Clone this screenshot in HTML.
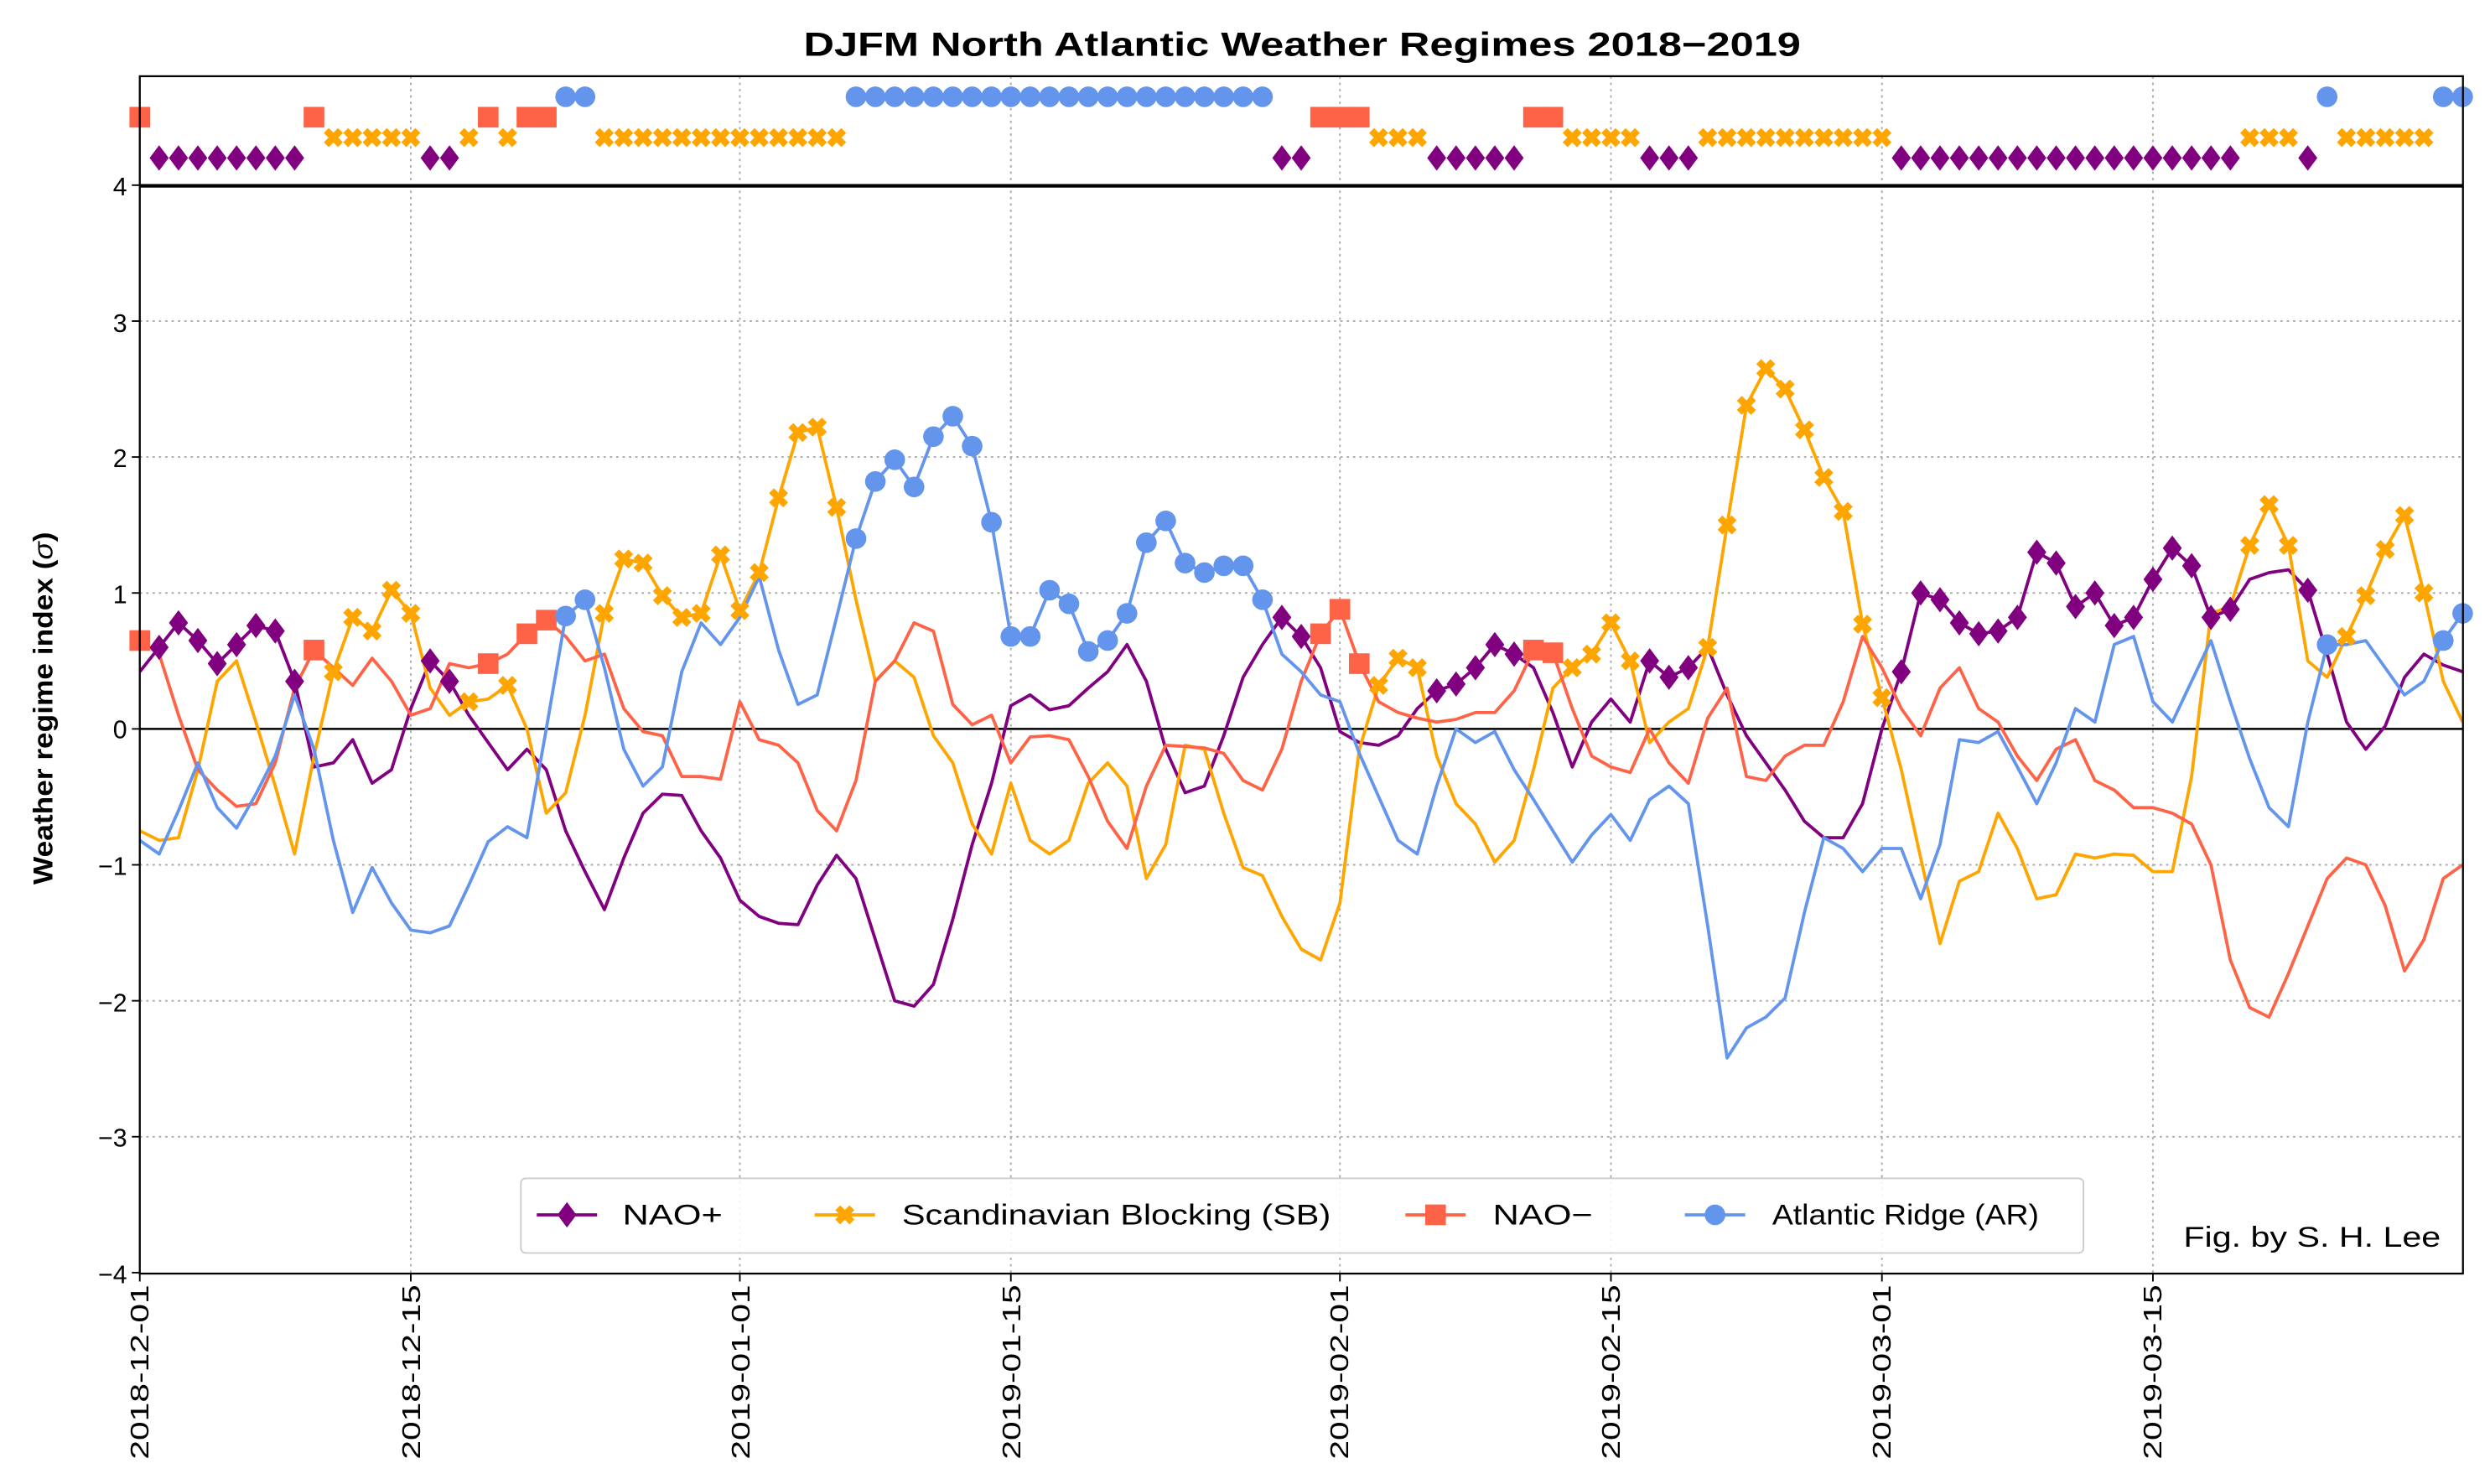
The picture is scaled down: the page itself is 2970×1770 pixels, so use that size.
<!DOCTYPE html>
<html><head><meta charset="utf-8"><style>
html,body{margin:0;padding:0;background:#fff}
svg{display:block}
text{font-family:"Liberation Sans","DejaVu Sans",sans-serif}
</style></head><body>
<svg id="s" width="2970" height="1770" viewBox="0 0 1568 934.5" xmlns="http://www.w3.org/2000/svg">
<rect width="1568" height="934.5" fill="#fff"/>
<g id="grid" stroke="#aaa" stroke-width="1" stroke-dasharray="1.5,2.5"></g>
<line x1="88" y1="459" x2="1551" y2="459" stroke="#000" stroke-width="1.3"/>
<g id="series"></g>
<line x1="88" y1="117" x2="1551" y2="117" stroke="#000" stroke-width="2.2"/>
<rect x="88" y="48" width="1463" height="754" fill="none" stroke="#000" stroke-width="1.2"/>
<text x="820" y="35" font-size="21" font-weight="bold" text-anchor="middle" textLength="628" lengthAdjust="spacingAndGlyphs">DJFM North Atlantic Weather Regimes 2018−2019</text>
<g font-size="16" text-anchor="end">
<text x="80" y="123">4</text><text x="80" y="209">3</text><text x="80" y="294">2</text><text x="80" y="380">1</text><text x="80" y="465">0</text><text x="80" y="551">−1</text><text x="80" y="637">−2</text><text x="80" y="722">−3</text><text x="80" y="808">−4</text>
</g>
<text transform="translate(33,446) rotate(-90)" font-size="17" font-weight="bold" text-anchor="middle" textLength="222" lengthAdjust="spacingAndGlyphs">Weather regime index (<tspan font-style="italic" font-weight="normal">σ</tspan>)</text>
<g font-size="16" text-anchor="end">
<text transform="translate(93.5,809) rotate(-90)" textLength="110" lengthAdjust="spacingAndGlyphs">2018-12-01</text>
<text transform="translate(264.5,809) rotate(-90)" textLength="110" lengthAdjust="spacingAndGlyphs">2018-12-15</text>
<text transform="translate(472,809) rotate(-90)" textLength="110" lengthAdjust="spacingAndGlyphs">2019-01-01</text>
<text transform="translate(642.5,809) rotate(-90)" textLength="110" lengthAdjust="spacingAndGlyphs">2019-01-15</text>
<text transform="translate(849,809) rotate(-90)" textLength="110" lengthAdjust="spacingAndGlyphs">2019-02-01</text>
<text transform="translate(1020,809) rotate(-90)" textLength="110" lengthAdjust="spacingAndGlyphs">2019-02-15</text>
<text transform="translate(1190.5,809) rotate(-90)" textLength="110" lengthAdjust="spacingAndGlyphs">2019-03-01</text>
<text transform="translate(1361,809) rotate(-90)" textLength="110" lengthAdjust="spacingAndGlyphs">2019-03-15</text>
</g>
<g id="ticks" stroke="#000" stroke-width="1"></g>
<rect x="328" y="742" width="984" height="47" rx="3" fill="#fff" fill-opacity="0.85" stroke="#ccc"/>
<g id="leg"></g>
<g font-size="18">
<text x="392" y="771" textLength="63" lengthAdjust="spacingAndGlyphs">NAO+</text>
<text x="568" y="771" textLength="270" lengthAdjust="spacingAndGlyphs">Scandinavian Blocking (SB)</text>
<text x="940" y="771" textLength="63" lengthAdjust="spacingAndGlyphs">NAO−</text>
<text x="1116" y="771" textLength="168" lengthAdjust="spacingAndGlyphs">Atlantic Ridge (AR)</text>
</g>
<text x="1537" y="785" font-size="18" text-anchor="end" textLength="162" lengthAdjust="spacingAndGlyphs">Fig. by S. H. Lee</text>
</svg>
<script>
const NS="http://www.w3.org/2000/svg";
const X=d=>88+d*12.19, Y=v=>459-v*85.6;
function el(p,t,a){const e=document.createElementNS(NS,t);for(const k in a)e.setAttribute(k,a[k]);p.appendChild(e);return e;}
const grid=document.getElementById('grid'),ticks=document.getElementById('ticks');
[-3,-2,-1,1,2,3].forEach(v=>el(grid,'line',{x1:88,x2:1551,y1:Y(v),y2:Y(v)}));
[0,14,31,45,62,76,90,104].forEach(d=>{el(grid,'line',{x1:X(d),x2:X(d),y1:48,y2:802});el(ticks,'line',{x1:X(d),x2:X(d),y1:802,y2:807});});
[-4,-3,-2,-1,0,1,2,3,4].forEach(v=>el(ticks,'line',{x1:83,x2:88,y1:Y(v),y2:Y(v)}));
const nao=[0.42,0.6,0.78,0.65,0.48,0.62,0.76,0.72,0.35,-0.28,-0.25,-0.08,-0.4,-0.3,0.15,0.5,0.35,0.1,-0.1,-0.3,-0.15,-0.3,-0.75,-1.05,-1.33,-0.95,-0.62,-0.48,-0.49,-0.75,-0.95,-1.26,-1.38,-1.43,-1.44,-1.15,-0.93,-1.1,-1.55,-2.0,-2.04,-1.88,-1.4,-0.85,-0.4,0.17,0.25,0.14,0.17,0.3,0.42,0.62,0.35,-0.15,-0.47,-0.42,-0.05,0.38,0.62,0.82,0.68,0.45,-0.02,-0.1,-0.12,-0.05,0.15,0.28,0.33,0.45,0.62,0.55,0.45,0.12,-0.28,0.05,0.22,0.05,0.5,0.38,0.45,0.6,0.25,-0.05,-0.25,-0.45,-0.68,-0.8,-0.8,-0.55,0.0,0.42,1.0,0.95,0.78,0.7,0.72,0.82,1.3,1.22,0.9,1.0,0.76,0.82,1.1,1.33,1.2,0.82,0.88,1.1,1.15,1.17,1.02,0.55,0.05,-0.15,0.02,0.38,0.55,0.47,0.42];
const sb=[-0.75,-0.82,-0.8,-0.3,0.35,0.5,0.05,-0.42,-0.92,-0.2,0.42,0.82,0.72,1.02,0.85,0.3,0.1,0.2,0.22,0.32,0.0,-0.62,-0.47,0.1,0.85,1.25,1.22,0.98,0.82,0.85,1.28,0.87,1.15,1.7,2.18,2.22,1.63,0.95,0.35,0.5,0.38,-0.05,-0.25,-0.7,-0.92,-0.4,-0.82,-0.92,-0.82,-0.4,-0.25,-0.42,-1.1,-0.85,-0.12,-0.15,-0.62,-1.02,-1.08,-1.38,-1.62,-1.7,-1.28,-0.15,0.32,0.52,0.45,-0.2,-0.55,-0.7,-0.98,-0.82,-0.3,0.3,0.45,0.55,0.78,0.5,-0.1,0.05,0.15,0.6,1.5,2.38,2.65,2.5,2.2,1.85,1.6,0.77,0.23,-0.3,-0.95,-1.58,-1.12,-1.05,-0.62,-0.88,-1.25,-1.22,-0.92,-0.95,-0.92,-0.93,-1.05,-1.05,-0.35,0.85,0.9,1.35,1.65,1.35,0.5,0.38,0.68,0.98,1.32,1.57,1.0,0.35,0.05];
const nm=[0.65,0.55,0.1,-0.3,-0.45,-0.57,-0.55,-0.25,0.3,0.58,0.45,0.32,0.52,0.35,0.1,0.15,0.48,0.45,0.48,0.55,0.7,0.8,0.68,0.5,0.55,0.15,-0.02,-0.05,-0.35,-0.35,-0.37,0.2,-0.08,-0.12,-0.25,-0.6,-0.75,-0.38,0.35,0.5,0.78,0.72,0.18,0.03,0.1,-0.25,-0.06,-0.05,-0.08,-0.35,-0.68,-0.88,-0.42,-0.12,-0.13,-0.14,-0.18,-0.38,-0.45,-0.15,0.35,0.7,0.88,0.48,0.2,0.12,0.08,0.05,0.07,0.12,0.12,0.28,0.58,0.56,0.15,-0.2,-0.28,-0.32,0.0,-0.25,-0.4,0.08,0.3,-0.35,-0.38,-0.2,-0.12,-0.12,0.2,0.68,0.45,0.15,-0.05,0.3,0.45,0.15,0.05,-0.2,-0.38,-0.15,-0.08,-0.38,-0.45,-0.58,-0.58,-0.62,-0.7,-1.0,-1.7,-2.05,-2.12,-1.8,-1.45,-1.1,-0.95,-1.0,-1.3,-1.78,-1.55,-1.1,-1.0];
const ar=[-0.82,-0.92,-0.6,-0.25,-0.58,-0.73,-0.48,-0.2,0.25,-0.15,-0.82,-1.35,-1.02,-1.28,-1.48,-1.5,-1.45,-1.15,-0.83,-0.72,-0.8,0.0,0.83,0.95,0.45,-0.15,-0.42,-0.28,0.42,0.78,0.62,0.82,1.12,0.58,0.18,0.25,0.82,1.4,1.82,1.98,1.78,2.15,2.3,2.08,1.52,0.68,0.68,1.02,0.92,0.57,0.65,0.85,1.37,1.53,1.22,1.15,1.2,1.2,0.95,0.55,0.42,0.25,0.2,-0.18,-0.5,-0.82,-0.92,-0.42,0.0,-0.1,-0.02,-0.3,-0.52,-0.75,-0.98,-0.78,-0.63,-0.82,-0.52,-0.42,-0.55,-1.45,-2.42,-2.2,-2.12,-1.98,-1.35,-0.8,-0.88,-1.05,-0.88,-0.88,-1.25,-0.85,-0.08,-0.1,-0.02,-0.28,-0.55,-0.25,0.15,0.05,0.62,0.68,0.2,0.05,0.35,0.65,0.2,-0.22,-0.58,-0.72,0.05,0.62,0.62,0.65,0.45,0.25,0.35,0.65,0.85];
const reg=[];
function set(a,b,r){for(let d=a;d<=b;d++)reg[d]=r;}
set(0,0,2);set(1,8,0);set(9,9,2);set(10,14,1);set(15,16,0);set(17,17,1);set(18,18,2);set(19,19,1);set(20,21,2);set(22,23,3);set(24,36,1);set(37,58,3);set(59,60,0);set(61,63,2);set(64,66,1);set(67,71,0);set(72,73,2);set(74,77,1);set(78,80,0);set(81,90,1);set(91,108,0);set(109,111,1);set(112,112,0);set(113,113,3);set(114,118,1);set(119,120,3);
const cols=['#800080','#FFA500','#FF6347','#6495ED'];
const data=[nao,sb,nm,ar];
const stripV=[4.2,4.35,4.5,4.65];
const G=document.getElementById('series');
function marker(p,r,x,y){
  const c=cols[r];
  if(r===0){const s=8;el(p,'path',{d:`M${x},${y-s}L${x+s*0.75},${y}L${x},${y+s}L${x-s*0.75},${y}Z`,fill:c});}
  else if(r===1){const a=2.2,b=6;el(p,'path',{d:`M${x-b},${y-b+a*1.4}L${x-b+a*1.4},${y-b}L${x},${y-a*1.4}L${x+b-a*1.4},${y-b}L${x+b},${y-b+a*1.4}L${x+a*1.4},${y}L${x+b},${y+b-a*1.4}L${x+b-a*1.4},${y+b}L${x},${y+a*1.4}L${x-b+a*1.4},${y+b}L${x-b},${y+b-a*1.4}L${x-a*1.4},${y}Z`,fill:c});}
  else if(r===2){el(p,'rect',{x:x-6.5,y:y-6.5,width:13,height:13,fill:c});}
  else {el(p,'circle',{cx:x,cy:y,r:6.5,fill:c});}
}
data.forEach((arr,i)=>{
  el(G,'polyline',{points:arr.map((v,d)=>X(d).toFixed(1)+','+Y(v).toFixed(1)).join(' '),fill:'none',stroke:cols[i],'stroke-width':2,'stroke-linejoin':'round'});
});
for(let d=0;d<=120;d++){const r=reg[d];marker(G,r,X(d),Y(data[r][d]));marker(G,r,X(d),Y(stripV[r]));}
const L=document.getElementById('leg');
[[338,376],[513,551],[885,923],[1061,1099]].forEach((p,i)=>{el(L,'line',{x1:p[0],x2:p[1],y1:765,y2:765,stroke:cols[i],'stroke-width':2});marker(L,i,(p[0]+p[1])/2,765);});
</script>
</body></html>
